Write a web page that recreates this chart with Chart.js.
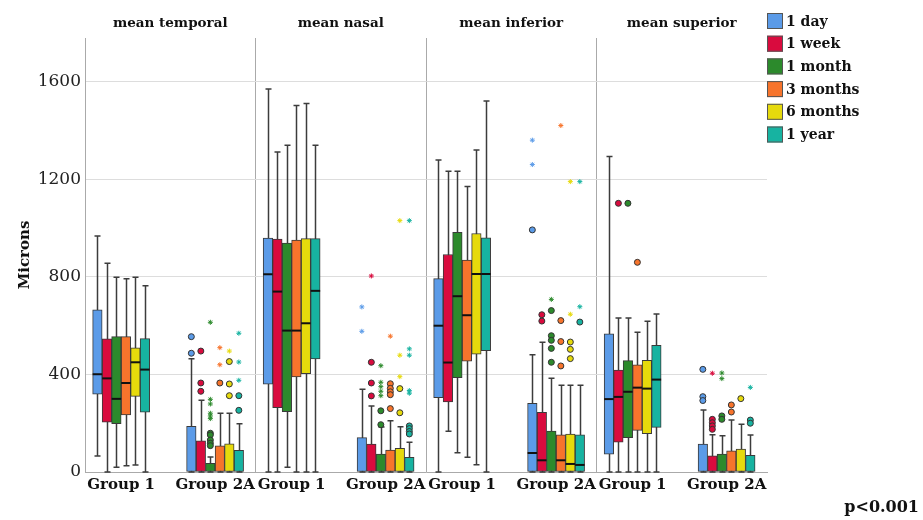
<!DOCTYPE html>
<html><head><meta charset="utf-8">
<script src="https://cdn.jsdelivr.net/npm/chart.js@4.4.0/dist/chart.umd.min.js"></script>
<style>html,body{margin:0;padding:0;background:#fff}#wrap{width:923px;height:520px}</style>
</head><body><div id="wrap"><canvas id="c" width="923" height="520"></canvas></div>
<script>
// ---- data ----
const panels = ['mean temporal', 'mean nasal', 'mean inferior', 'mean superior'];
const groups = ['Group 1', 'Group 2A'];
const series = ['1 day', '1 week', '1 month', '3 months', '6 months', '1 year'];
const yTicks = [0, 400, 800, 1200, 1600];
// box order: temporal G1, temporal G2A, nasal G1, nasal G2A, inferior G1, inferior G2A, superior G1, superior G2A
const whiskerHigh = [
  [968, 464, 1571, 339, 1280, 481, 1294, 254],
  [856, 294, 1312, 271, 1234, 532, 632, 153],
  [799, 62, 1340, 185, 1234, 384, 632, 149],
  [793, 241, 1503, 210, 1171, 356, 573, 213],
  [799, 241, 1511, 186, 1321, 356, 618, 196],
  [764, 198, 1340, 122, 1522, 356, 648, 152]
];
const q3 = [
  [665, 187, 959, 141, 793, 282, 567, 114],
  [546, 128, 955, 114, 892, 245, 418, 66],
  [555, 36, 939, 74, 983, 168, 457, 73],
  [555, 107, 951, 90, 869, 152, 440, 87],
  [509, 116, 957, 97, 978, 156, 458, 94],
  [547, 89, 957, 60, 960, 152, 520, 68]
];
const median = [
  [401, 0, 811, 0, 600, 78, 299, 0],
  [384, 0, 740, 0, 449, 48, 308, 0],
  [300, 0, 580, 0, 721, 0, 329, 0],
  [365, 0, 580, 0, 643, 48, 346, 0],
  [450, 0, 610, 0, 812, 33, 342, 0],
  [420, 0, 743, 0, 812, 29, 379, 0]
];
const q1 = [
  [319, 0, 360, 0, 305, 0, 73, 0],
  [204, 0, 264, 0, 287, 0, 122, 0],
  [198, 0, 247, 0, 387, 0, 141, 0],
  [234, 0, 390, 0, 455, 0, 171, 0],
  [310, 0, 403, 0, 483, 0, 157, 0],
  [245, 0, 464, 0, 498, 0, 183, 0]
];
const whiskerLow = [
  [66, 0, 0, 0, 0, 0, 0, 0],
  [0, 0, 0, 0, 167, 0, 0, 0],
  [19, 0, 19, 0, 79, 0, 0, 0],
  [26, 0, 0, 0, 60, 0, 0, 0],
  [29, 0, 0, 0, 30, 0, 0, 0],
  [0, 0, 0, 0, 0, 0, 0, 0]
];
// outliers: [box index, value]
const outliersCircle = [
  [[1,555],[1,487],[5,993],[7,421],[7,309],[7,293]],
  [[1,496],[1,365],[1,331],[3,450],[3,365],[3,312],[5,645],[5,619],[6,1102],[7,216],[7,202],[7,189],[7,175]],
  [[1,159],[1,152],[1,131],[1,118],[1,108],[3,251],[3,194],[5,662],[5,559],[5,540],[5,507],[5,450],[6,1102],[7,230],[7,216]],
  [[1,365],[3,362],[3,343],[3,329],[3,317],[3,260],[5,621],[5,535],[5,435],[6,860],[7,275],[7,246]],
  [[1,453],[1,361],[1,313],[3,342],[3,243],[5,533],[5,503],[5,465],[7,301]],
  [[1,313],[1,253],[3,189],[3,178],[3,166],[3,156],[5,615],[7,213],[7,200]]
];
const outliersStar = [
  [[3,677],[3,577],[5,1361],[5,1261]],
  [[3,804],[7,405]],
  [[1,614],[1,298],[1,279],[1,241],[1,230],[1,219],[3,436],[3,368],[3,350],[3,331],[3,313],[5,708],[7,406],[7,383]],
  [[1,510],[1,440],[3,557],[5,1421]],
  [[1,496],[3,1031],[3,479],[3,391],[5,1191],[5,647]],
  [[1,569],[1,451],[1,376],[3,1031],[3,505],[3,479],[3,334],[3,323],[5,1191],[5,678],[7,347]]
];
const pText = 'p<0.001';

// ---- styling / layout ----
const colors = ['#5b9be8', '#d90b3e', '#2c8a2c', '#f7742c', '#e6da0c', '#17b3a1'];
const SERIF = '"DejaVu Serif", serif';
const groupOffset = [0.212, 0.763];
const boxW = 9.5;               // px
const boxWU = boxW / 170.5;     // in panel units
function groupCenter(k) { return Math.floor(k / 2) + groupOffset[k % 2]; }
function boxX(k, i) { return groupCenter(k) + (i - 2.5) * boxWU; }
const groupCenters = [0,1,2,3,4,5,6,7].map(groupCenter);
const panelCenters = panels.map((_, p) => p + 0.5);

const datasets = [];
series.forEach((name, i) => {
  datasets.push({
    type: 'bar', label: name,
    data: q3[i].map((v, k) => ({x: boxX(k, i), y: [q1[i][k], v]})),
    backgroundColor: colors[i], borderColor: '#3a3a3a', borderWidth: 1,
    borderSkipped: false, grouped: false, barThickness: boxW, order: 2
  });
});
series.forEach((name, i) => {
  datasets.push({
    type: 'scatter', label: name + ' outliers',
    data: outliersCircle[i].map(([k, v]) => ({x: boxX(k, i), y: v})),
    pointStyle: 'circle', pointRadius: 3, pointBackgroundColor: colors[i],
    pointBorderColor: '#333', pointBorderWidth: 1, order: 1
  });
  datasets.push({
    type: 'scatter', label: name + ' extremes',
    data: outliersStar[i].map(([k, v]) => ({x: boxX(k, i), y: v})),
    pointStyle: 'star', pointRadius: 2.5, pointBorderColor: colors[i],
    pointBackgroundColor: colors[i], pointBorderWidth: 1, order: 1
  });
});

const boxPlugin = {
  id: 'boxparts',
  beforeDatasetsDraw(chart) {
    const {ctx, scales: {x, y}} = chart;
    ctx.save();
    ctx.strokeStyle = '#3c3c3c'; ctx.lineWidth = 1.5;
    series.forEach((_, i) => {
      for (let k = 0; k < 8; k++) {
        const px = Math.round(x.getPixelForValue(boxX(k, i))) + 0.5;
        const yl = y.getPixelForValue(whiskerLow[i][k]);
        const yh = y.getPixelForValue(whiskerHigh[i][k]);
        ctx.beginPath();
        ctx.moveTo(px, yl); ctx.lineTo(px, yh);
        ctx.moveTo(px - 3, yh); ctx.lineTo(px + 3, yh);
        ctx.moveTo(px - 3, yl); ctx.lineTo(px + 3, yl);
        ctx.stroke();
      }
    });
    ctx.restore();
  },
  afterDatasetsDraw(chart) {
    const {ctx, scales: {x, y}} = chart;
    ctx.save();
    ctx.strokeStyle = '#111'; ctx.lineWidth = 2;
    series.forEach((_, i) => {
      for (let k = 0; k < 8; k++) {
        const px = x.getPixelForValue(boxX(k, i));
        const py = y.getPixelForValue(median[i][k]);
        if (median[i][k] <= 0) continue;
        ctx.beginPath();
        ctx.moveTo(px - boxW / 2, py); ctx.lineTo(px + boxW / 2, py);
        ctx.stroke();
      }
    });
    ctx.restore();
  },
  afterDraw(chart) {
    const {ctx} = chart;
    ctx.save();
    ctx.font = 'bold 14px ' + SERIF;
    ctx.textBaseline = 'middle';
    ctx.textAlign = 'left';
    series.forEach((name, i) => {
      const cy = 21 + i * 22.7;
      ctx.fillStyle = colors[i];
      ctx.fillRect(767, cy - 8, 16, 16);
      ctx.strokeStyle = '#555'; ctx.lineWidth = 1;
      ctx.strokeRect(767.5, cy - 7.5, 15, 15);
      ctx.fillStyle = '#111';
      ctx.fillText(name, 786, cy + 1);
    });
    ctx.font = 'bold 16px ' + SERIF;
    ctx.textAlign = 'right';
    ctx.fillText(pText, 919, 508);
    ctx.restore();
  }
};

new Chart(document.getElementById('c'), {
  type: 'bar',
  data: {datasets},
  options: {
    responsive: false, animation: false, devicePixelRatio: 1,
    layout: {padding: {left: 0, right: 156, top: 0, bottom: 0}},
    plugins: {legend: {display: false}, tooltip: {enabled: false}},
    scales: {
      x: {
        type: 'linear', min: 0, max: 4, position: 'bottom', offset: false,
        grid: {display: false, drawTicks: false, offset: false},
        border: {color: '#aaaaaa'},
        afterBuildTicks: s => { s.ticks = groupCenters.map(v => ({value: v})); },
        afterFit: s => { s.height = 48; },
        ticks: {autoSkip: false, maxRotation: 0, padding: 4, color: '#111',
          font: {family: SERIF, size: 15, weight: 'bold'},
          callback: (v, idx) => groups[idx % 2]}
      },
      xGrid: {
        type: 'linear', min: 0, max: 4, position: 'bottom', offset: false,
        grid: {display: true, color: '#aaaaaa', drawTicks: false, offset: false},
        border: {display: false},
        afterBuildTicks: s => { s.ticks = [1, 2, 3].map(v => ({value: v})); },
        afterFit: s => { s.height = 0; },
        ticks: {display: false}
      },
      xTop: {
        type: 'linear', min: 0, max: 4, position: 'top', offset: false,
        grid: {display: false, drawTicks: false, offset: false},
        border: {display: false},
        afterBuildTicks: s => { s.ticks = panelCenters.map(v => ({value: v})); },
        afterFit: s => { s.height = 38; },
        ticks: {autoSkip: false, maxRotation: 0, padding: 6, color: '#111',
          font: {family: SERIF, size: 13.5, weight: 'bold'},
          callback: (v, idx) => panels[idx]}
      },
      y: {
        type: 'linear', min: 0, max: 1780,
        grid: {color: '#dddddd', drawTicks: false},
        border: {color: '#aaaaaa'},
        afterBuildTicks: s => { s.ticks = yTicks.map(v => ({value: v})); },
        afterFit: s => { s.width = 85; },
        ticks: {padding: 4, color: '#222', font: {family: SERIF, size: 17},
          callback: v => String(v)},
        title: {display: true, text: 'Microns', color: '#111', padding: {top: 16, bottom: 0},
          font: {family: SERIF, size: 15, weight: 'bold'}}
      }
    }
  },
  plugins: [boxPlugin]
});
</script>
</body></html>
